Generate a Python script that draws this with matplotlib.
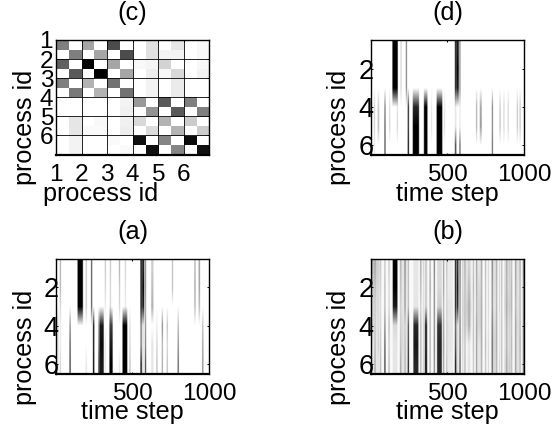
import numpy as np
import matplotlib
matplotlib.use("Agg")
import matplotlib.pyplot as plt

plt.rcParams['font.family'] = ['Liberation Sans', 'DejaVu Sans']
FS_TICK = 17.6
FS_YTICK = 19.5
FS_LABEL = 18.2

# panel (c): similarity matrix, 12 x 12 cells (0 white, 1 black)
c_values = [
    [.50, 0, .35, 0, .70, 0, 0, .12, 0, .10, 0, .03],
    [0, .50, 0, .35, 0, .70, 0, .12, .05, .05, 0, .03],
    [.62, 0, 1, 0, .35, 0, .03, .04, .17, 0, 0, .03],
    [0, .65, 0, 1, 0, .35, 0, .07, .03, .15, 0, .05],
    [.50, 0, .30, 0, .55, 0, 0, .05, 0, .08, 0, 0],
    [0, .52, 0, .30, 0, .55, 0, .05, 0, .08, 0, 0],
    [0, 0, 0, 0, 0, .05, .40, 0, .65, 0, .50, 0],
    [0, 0, 0, 0, 0, .06, 0, .42, 0, .65, 0, .50],
    [0, .10, 0, .03, 0, .06, .15, 0, .30, 0, .20, 0],
    [0, .10, .02, .02, 0, .07, 0, .14, 0, .30, 0, .20],
    [0, .05, 0, 0, .02, 0, .93, 0, .48, 0, .95, 0],
    [0, .05, 0, 0, 0, .02, 0, .93, 0, .48, 0, .93],
]
c_ticks = [1, 2, 3, 4, 5, 6]

# time-step panels: bands as (time, width, six process levels)
d_bands = [
    (157, 34, 1, 1, 1, 0, 0, 0),
    (196, 8, .15, .15, .15, 0, 0, 0),
    (231, 6, .55, .55, .55, 0, 0, 0),
    (553, 9, .85, .85, .85, .1, .1, .7),
    (566, 14, .9, 1, .9, 0, 0, 0),
    (581, 6, .5, .5, .5, .1, .1, .7),
    (22, 6, 0, 0, 0, .2, .2, .1),
    (48, 10, 0, 0, 0, .2, .25, 0),
    (91, 6, 0, 0, 0, .6, .75, .8),
    (122, 6, 0, 0, 0, .15, .2, 0),
    (172, 6, 0, 0, 0, .12, .2, 0),
    (244, 7, 0, 0, 0, .9, .9, 1),
    (293, 40, 0, 0, 0, .85, 1, 1),
    (357, 22, 0, 0, 0, 1, 1, 1),
    (447, 36, 0, 0, 0, 1, 1, 1),
    (396, 5, 0, 0, 0, .1, .15, 0),
    (480, 6, 0, 0, 0, .1, .15, 0),
    (690, 6, 0, 0, 0, .35, .35, 0),
    (717, 12, 0, 0, 0, .35, .4, 0),
    (793, 6, 0, 0, 0, .55, .55, .65),
    (843, 6, 0, 0, 0, .25, .3, 0),
    (869, 5, 0, 0, 0, .2, .2, 0),
    (897, 5, 0, 0, 0, .2, .2, 0),
    (956, 6, 0, 0, 0, .25, .25, 0),
    (974, 6, 0, 0, 0, .25, .25, 0),
]

a_bands = [
    (157, 34, 1, 1, 1, 0, 0, 0),
    (28, 6, .35, .35, .2, .1, .1, .2),
    (196, 8, .2, .2, .2, 0, 0, .1),
    (231, 6, .75, .75, .75, 0, 0, 0),
    (320, 6, .25, .2, .1, 0, .1, .1),
    (353, 6, .25, .2, .2, .2, .2, .2),
    (412, 6, .35, .25, .2, 0, 0, .1),
    (450, 6, .2, .15, .1, 0, 0, 0),
    (553, 9, .9, .9, .9, .5, .5, .9),
    (566, 12, .9, 1, .9, .1, .1, .1),
    (581, 6, .5, .5, .4, .5, .6, .85),
    (625, 14, .2, .25, .3, 0, .1, .1),
    (756, 6, .3, .3, 0, 0, 0, 0),
    (902, 8, .3, .35, .3, 0, 0, 0),
    (930, 8, .4, .4, .3, 0, 0, 0),
    (91, 6, 0, 0, 0, .55, .8, .9),
    (12, 6, 0, 0, 0, .2, .2, .15),
    (244, 8, 0, 0, 0, .95, .95, 1),
    (278, 6, 0, 0, 0, .5, .6, .85),
    (296, 26, 0, 0, 0, .9, .95, .9),
    (357, 20, 0, 0, 0, .75, .9, 1),
    (447, 30, 0, 0, 0, 1, 1, 1),
    (480, 6, 0, 0, 0, .15, .2, .3),
    (655, 6, 0, 0, 0, .1, .2, .3),
    (690, 6, 0, 0, 0, .55, .35, .4),
    (722, 6, 0, 0, 0, .3, .2, .3),
    (793, 6, 0, 0, 0, .35, .55, .75),
    (953, 6, 0, 0, 0, .3, .45, .55),
]

b_bands = [
    (35, 40, .18, .15, .12, .1, .08, .08),
    (215, 40, .1, .1, .08, .1, .1, .1),
    (515, 40, .08, .08, .1, .1, .1, .08),
    (630, 50, .1, .12, .18, .14, .04, .04),
    (705, 40, .1, .14, .16, .16, .1, .1),
    (805, 40, .12, .12, .1, .14, .16, .14),
    (895, 50, .12, .14, .16, .12, .1, .14),
    (960, 40, .12, .12, .12, .14, .12, .12),
    (157, 30, 1, 1, .9, .15, .1, .1),
    (9, 10, .35, .25, .2, .2, .1, .1),
    (26, 10, .35, .25, .2, .2, .25, .3),
    (48, 7, .1, .1, .15, .15, .2, .1),
    (63, 7, .25, .2, .15, .2, .25, .3),
    (91, 7, .25, .3, .3, .5, .7, .8),
    (118, 9, .2, .15, .15, .25, .2, .25),
    (194, 9, .3, .25, .2, .2, .25, .35),
    (207, 7, .1, .1, .1, .15, .15, .1),
    (222, 8, .45, .4, .4, .2, .25, .3),
    (244, 7, .3, .3, .3, .75, .85, .95),
    (293, 32, .1, .1, .1, .85, .9, .85),
    (325, 8, .35, .3, .2, .3, .3, .3),
    (342, 6, .2, .15, .15, .2, .2, .2),
    (359, 14, .2, .2, .2, .85, .85, .9),
    (386, 8, .3, .35, .3, .3, .3, .3),
    (414, 7, .55, .5, .5, .5, .55, .5),
    (447, 30, .15, .15, .2, .8, .85, .85),
    (475, 7, .4, .4, .3, .4, .45, .4),
    (495, 7, .25, .2, .2, .2, .2, .25),
    (553, 9, .85, .85, .85, .6, .7, .9),
    (566, 10, .85, .95, .85, .15, .15, .15),
    (582, 7, .6, .55, .5, .55, .6, .7),
    (599, 6, .22, .2, .22, .2, .2, .15),
    (614, 9, .3, .25, .22, .25, .22, .25),
    (640, 14, .18, .25, .3, .3, .1, .12),
    (669, 8, .25, .3, .25, .25, .25, .22),
    (690, 7, .38, .35, .3, .38, .4, .4),
    (723, 9, .33, .3, .33, .33, .33, .3),
    (749, 7, .3, .25, .25, .25, .3, .25),
    (767, 6, .18, .18, .18, .14, .18, .18),
    (793, 7, .5, .45, .45, .55, .6, .6),
    (821, 8, .33, .3, .3, .33, .33, .3),
    (839, 6, .18, .18, .18, .14, .14, .18),
    (854, 8, .25, .25, .22, .25, .25, .25),
    (887, 9, .33, .3, .33, .3, .3, .33),
    (904, 6, .22, .18, .22, .18, .18, .22),
    (919, 8, .25, .3, .3, .25, .3, .25),
    (945, 8, .38, .35, .3, .38, .38, .38),
    (974, 8, .3, .25, .25, .25, .3, .25),
    (996, 7, .5, .45, .45, .5, .5, .5),
]
b_background = .02

time_ticks = [500, 1000]
process_ticks = [2, 4, 6]


def band_matrix(bands, background=0.0):
    m = np.full((6, 1000), float(background))
    for t, w, *levels in bands:
        lo = max(0, int(t - w / 2))
        hi = min(1000, int(t + w / 2) + 1)
        m[:, lo:hi] = np.maximum(m[:, lo:hi], np.array(levels)[:, None])
    return m


W, H = 557, 429
fig = plt.figure(figsize=(W / 100, H / 100), dpi=100)


def make_axes(x0, x1, y0, y1):
    return fig.add_axes([x0 / W, 1 - y1 / H, (x1 - x0) / W, (y1 - y0) / H])


def finish(ax, title, title_y, xlabel, xlabel_x, xlabel_y, ylabel_x, ylabel_y, box, ypad, ysize):
    x0, x1, y0, y1 = box
    ax.tick_params(direction='in', length=1.6, width=0.7, top=True, right=True, labelsize=FS_TICK)
    ax.tick_params(axis='x', pad=6.5)
    ax.tick_params(axis='y', pad=ypad, labelsize=ysize)
    for s in ax.spines.values():
        s.set_linewidth(1.0)
    ax.spines['bottom'].set_linewidth(1.6)
    ax.set_aspect('auto')
    ax.set_xlabel(xlabel, fontsize=FS_LABEL, va='center')
    ax.set_ylabel('process id', fontsize=FS_LABEL, va='center')
    ax.xaxis.set_label_coords((xlabel_x - x0) / (x1 - x0), (y1 - xlabel_y) / (y1 - y0))
    ax.yaxis.set_label_coords((ylabel_x - x0) / (x1 - x0), (y1 - ylabel_y) / (y1 - y0))
    ax.text((x0 + x1) / 2 / W, 1 - title_y / H, title, transform=fig.transFigure,
            ha='center', va='center', fontsize=FS_LABEL)


# (c)
box = (56, 209, 40, 154.5)
ax = make_axes(*box)
ax.imshow(np.array(c_values), cmap='gray_r', vmin=0, vmax=1, extent=(1, 7, 7, 1),
          interpolation='nearest')
ax.set_xticks(c_ticks)
ax.set_yticks(c_ticks)
ax.grid(True, color='black', linewidth=0.6)
ax.set_axisbelow(False)
finish(ax, '(c)', 13, 'process id', 101, 194, 25, 127, box, 2, FS_TICK)

# time-step panels
panels = [
    ('(d)', d_bands, 0.0, (371, 524, 40, 154.5), 13, 447, 194, 339, 127),
    ('(a)', a_bands, 0.0, (56, 209, 258.5, 374), 232, 132, 412, 25, 347),
    ('(b)', b_bands, b_background, (371, 524, 258.5, 374), 232, 447, 412, 339, 347),
]
for title, bands, bg, box, ty, lx, ly, yx, yy in panels:
    ax = make_axes(*box)
    ax.imshow(band_matrix(bands, bg), cmap='gray_r', vmin=0, vmax=1, aspect='auto',
              extent=(0.5, 1000.5, 6.5, 0.5), interpolation='bilinear', resample=True)
    ax.set_xticks(time_ticks)
    ax.set_yticks(process_ticks)
    finish(ax, title, ty, 'time step', lx, ly, yx, yy, box, -1.7, FS_YTICK)

fig.savefig('out.png', dpi=100)
